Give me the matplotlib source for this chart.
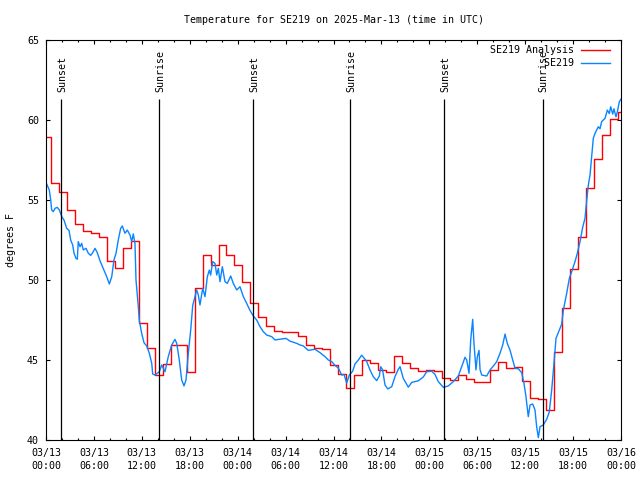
import numpy as np
import matplotlib
matplotlib.use("Agg")
import matplotlib.pyplot as plt

plt.rcParams['font.family'] = ['DejaVu Sans Mono']
plt.rcParams['font.size'] = 7.2

# hourly analysis values (step plot), steps change at hour + 0.6
red_temps = [58.92, 56.04, 55.48, 54.38, 53.50, 53.06, 52.94, 52.69, 51.19, 50.73,
             52.00, 52.44, 47.30, 45.75, 44.04, 44.73, 45.92, 45.92, 44.23, 49.48,
             51.56, 50.94, 52.17, 51.56, 50.94, 49.86, 48.54, 47.71, 47.15, 46.81,
             46.78, 46.75, 46.50, 45.94, 45.73, 45.70, 44.66, 44.10, 43.23, 44.06,
             45.00, 44.81, 44.40, 44.23, 45.23, 44.80, 44.48, 44.31, 44.35, 44.33,
             43.87, 43.75, 44.06, 43.83, 43.63, 43.63, 44.35, 44.88, 44.52, 44.54,
             43.67, 42.60, 42.58, 41.86, 45.48, 48.23, 50.67, 52.71, 55.73, 57.54,
             59.04, 60.06, 60.48]
red_hours = np.concatenate(([0.0], np.arange(72) + 0.6))

# station observations, hours since 03/13 00:00 UTC
blue_hours = [0.05, 0.41, 0.59, 0.71, 0.91, 1.13, 1.41, 1.67, 1.97, 2.25,
              2.59, 2.88, 3.09, 3.34, 3.51, 3.76, 3.92, 4.04, 4.26, 4.47,
              4.67, 5.01, 5.30, 5.60, 5.85, 6.14, 6.42, 6.76, 7.18, 7.60,
              7.93, 8.23, 8.51, 8.77, 9.05, 9.35, 9.55, 9.89, 10.18, 10.52,
              10.73, 10.93, 11.14, 11.27, 11.56, 11.68, 11.98, 12.27, 12.61, 12.94,
              13.24, 13.36, 13.65, 14.19, 14.49, 14.90, 15.31, 15.74, 16.15, 16.37,
              16.69, 16.99, 17.28, 17.53, 17.82, 18.12, 18.37, 18.66, 18.87, 19.07,
              19.28, 19.62, 19.91, 20.20, 20.45, 20.62, 20.87, 21.16, 21.38, 21.58,
              21.79, 22.08, 22.41, 22.70, 23.13, 23.45, 23.88, 24.29, 24.71, 25.13,
              25.54, 25.96, 26.38, 26.80, 27.21, 27.64, 28.26, 28.68, 29.30, 30.05,
              30.55, 31.39, 31.81, 32.22, 32.85, 33.68, 34.31, 34.94, 35.35, 35.78,
              36.19, 36.60, 37.03, 37.32, 37.65, 37.98, 38.40, 38.69, 39.11, 39.53,
              39.86, 40.16, 40.57, 40.98, 41.41, 41.74, 41.91, 42.14, 42.45, 42.79,
              43.29, 43.70, 44.11, 44.33, 44.74, 45.37, 45.79, 46.62, 47.25, 47.67,
              48.30, 48.71, 49.12, 49.75, 50.38, 51.00, 51.63, 52.05, 52.47, 52.68,
              52.97, 53.18, 53.43, 53.59, 53.84, 54.01, 54.22, 54.35, 54.56, 55.18,
              55.60, 56.01, 56.44, 56.85, 57.19, 57.48, 57.76, 58.10, 58.44, 58.73,
              59.14, 59.57, 59.85, 60.10, 60.39, 60.61, 60.94, 61.23, 61.44, 61.65,
              61.86, 62.27, 62.70, 63.02, 63.32, 63.61, 63.86, 64.28, 64.58, 64.78,
              65.20, 65.53, 65.83, 66.24, 66.53, 66.87, 67.20, 67.49, 67.71, 67.91,
              68.12, 68.33, 68.53, 68.75, 69.16, 69.37, 69.58, 70.00, 70.29, 70.54,
              70.71, 70.96, 71.12, 71.37, 71.54, 71.79, 72.00]
blue_temps = [56.04, 55.63, 55.00, 54.38, 54.27, 54.48, 54.54, 54.38, 53.96, 53.75,
              53.23, 53.10, 52.50, 52.19, 51.67, 51.35, 51.30, 52.40, 52.08, 52.29,
              51.88, 51.98, 51.67, 51.54, 51.71, 51.98, 51.71, 51.20, 50.70, 50.21,
              49.75, 50.20, 51.25, 51.67, 52.50, 53.23, 53.38, 52.92, 53.12, 52.81,
              52.40, 52.88, 52.29, 50.00, 48.33, 47.50, 46.67, 46.08, 45.88, 45.42,
              44.79, 44.12, 44.06, 44.27, 44.69, 44.27, 45.21, 45.94, 46.29, 46.04,
              45.00, 43.75, 43.38, 43.75, 45.42, 46.88, 48.40, 48.96, 49.38, 49.06,
              48.44, 49.48, 48.96, 50.20, 50.62, 50.31, 51.15, 51.04, 50.31, 50.73,
              49.90, 50.83, 49.90, 49.79, 50.25, 49.79, 49.38, 49.58, 48.96, 48.54,
              48.10, 47.75, 47.50, 47.08, 46.77, 46.56, 46.46, 46.25, 46.30, 46.35,
              46.18, 46.04, 45.94, 45.88, 45.60, 45.67, 45.46, 45.21, 45.00, 44.90,
              44.66, 44.50, 44.06, 44.10, 43.56, 44.06, 44.30, 44.75, 45.00, 45.30,
              45.10, 44.90, 44.38, 43.96, 43.71, 44.00, 44.58, 44.40, 43.44, 43.19,
              43.33, 43.96, 44.42, 44.58, 43.85, 43.30, 43.60, 43.70, 43.94, 44.27,
              44.30, 44.10, 43.65, 43.29, 43.38, 43.65, 44.00, 44.58, 45.17, 45.00,
              44.17, 46.25, 47.54, 46.04, 44.38, 45.21, 45.60, 44.40, 44.06, 44.00,
              44.38, 44.62, 44.90, 45.42, 45.94, 46.62, 46.04, 45.62, 45.00, 44.48,
              44.45, 44.21, 43.54, 42.71, 41.46, 42.19, 42.25, 41.88, 40.83, 40.15,
              40.83, 40.94, 41.30, 41.75, 43.12, 44.80, 46.35, 46.88, 47.25, 48.12,
              49.17, 50.10, 50.52, 51.15, 51.67, 52.40, 53.29, 53.85, 55.00, 55.94,
              56.56, 57.71, 58.85, 59.17, 59.58, 59.45, 59.90, 60.10, 60.62, 60.40,
              60.83, 60.37, 60.70, 60.20, 60.50, 61.15, 61.30]

sun_hours = [1.92, 14.19, 25.96, 38.10, 49.88, 62.19]
sun_names = ["Sunset", "Sunrise", "Sunset", "Sunrise", "Sunset", "Sunrise"]

tick_hours = [0, 6, 12, 18, 24, 30, 36, 42, 48, 54, 60, 66, 72]
tick_labels = ["03/13\n00:00", "03/13\n06:00", "03/13\n12:00", "03/13\n18:00",
               "03/14\n00:00", "03/14\n06:00", "03/14\n12:00", "03/14\n18:00",
               "03/15\n00:00", "03/15\n06:00", "03/15\n12:00", "03/15\n18:00",
               "03/16\n00:00"]

fig = plt.figure(figsize=(6.4, 4.8), dpi=100)
ax = fig.add_axes([46 / 640, 40 / 480, 575 / 640, 400 / 480])

ax.step(np.append(red_hours, 72.0), np.append(red_temps, red_temps[-1]),
        where="post", color="#ff0000", lw=1.0, label="SE219 Analysis")
ax.plot(blue_hours, blue_temps, color="#0a84ff", lw=1.0, label="         SE219")

for h, name in zip(sun_hours, sun_names):
    ax.vlines(h, 40, 61.3, color="black", lw=0.9, zorder=5)
    ax.text(h + 0.1, 61.75, name, rotation=90, ha="center", va="bottom")

ax.set_xlim(0, 72)
ax.set_ylim(40, 65)
ax.set_xticks(tick_hours)
ax.set_xticklabels(tick_labels, linespacing=1.35)
ax.set_xticks(np.arange(0, 73, 2), minor=True)
ax.set_yticks([40, 45, 50, 55, 60, 65])
ax.tick_params(which="both", direction="in", top=True, right=True, width=0.8)
ax.tick_params(which="major", length=3.2, pad=5)
ax.tick_params(axis="x", which="major", pad=6)
ax.tick_params(which="minor", length=1.7)
for s in ax.spines.values():
    s.set_linewidth(0.8)

leg = ax.legend(loc="upper right", bbox_to_anchor=(0.981, 0.987), frameon=False,
                markerfirst=False, borderpad=0, borderaxespad=0,
                handlelength=2.9, handletextpad=0.7, labelspacing=0.3)

fig.text(333.5 / 640, 1 - 20 / 480, "Temperature for SE219 on 2025-Mar-13 (time in UTC)",
         ha="center", va="center")
fig.text(11 / 640, 1 - 240 / 480, "degrees F", rotation=90, ha="center", va="center")

fig.savefig("out.png", dpi=100)
